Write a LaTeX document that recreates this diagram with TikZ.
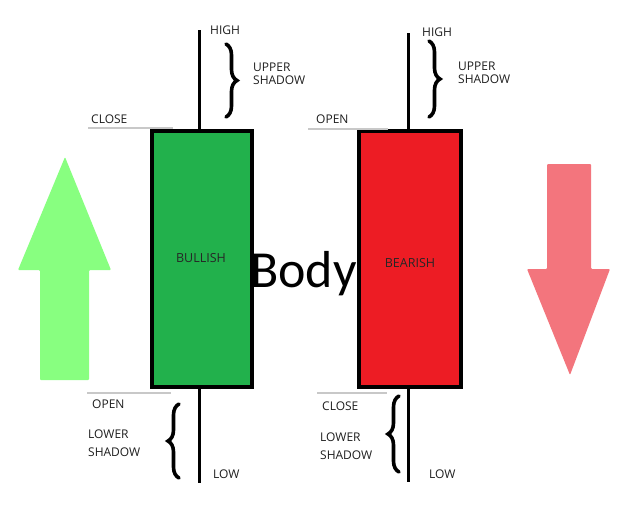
\documentclass[tikz,border=0pt]{standalone}
\usepackage{fontspec}
\setmainfont{Open Sans}
\newfontfamily\bodyfont{Carlito}
\usetikzlibrary{decorations.pathreplacing}
\definecolor{candlegreen}{RGB}{34,177,76}
\definecolor{candlered}{RGB}{237,28,36}
\definecolor{upgreen}{RGB}{136,255,128}
\definecolor{downred}{RGB}{243,117,125}
\definecolor{lbl}{RGB}{30,30,30}
\definecolor{levelgray}{RGB}{200,200,200}
\tikzset{
  candle/.style={draw=black, line width=4pt, minimum height=256pt, inner sep=0pt},
  wick/.style={line width=3pt, black},
  level/.style={line width=2.5pt, levelgray},
  lab/.style={font=\fontsize{12}{13.5}\selectfont, text=lbl, inner sep=0pt, anchor=west, align=left},
  boxlab/.style={font=\fontsize{12.5}{13}\selectfont, text=black!85, inner sep=0pt},
  shbrace/.style={decorate, decoration={brace, amplitude=11pt}, line width=3.6pt, line cap=round, black},
}
\begin{document}
\begin{tikzpicture}[x=1pt,y=-1pt]
\useasboundingbox (0,0) rectangle (631,523);
% big arrows
\fill[upgreen, rounded corners=1pt] (65,157) -- (111,270) -- (89,270) -- (89,380) -- (40,380) -- (40,270) -- (18,270) -- cycle;
\fill[downred, rounded corners=1pt] (547,164) -- (591,164) -- (591,269) -- (610,269) -- (570,375) -- (527,269) -- (547,269) -- cycle;
% candles
\node[candle, fill=candlegreen, minimum width=100pt] (bull) at (202,259) {};
\node[candle, fill=candlered, minimum width=102pt] (bear) at (410,259) {};
\node[boxlab] (bulltxt) at (201,258) {BULLISH};
\node[boxlab] (beartxt) at (410,263) {BEARISH};
% wicks
\coordinate (gh) at (199,30);
\coordinate (gl) at (199,483);
\coordinate (rh) at (408,33);
\coordinate (rl) at (408,482);
\draw[wick] (gh) -- (gh |- bull.north);
\draw[wick] (bull.south -| gl) -- (gl);
\draw[wick] (rh) -- (rh |- bear.north);
\draw[wick] (bear.south -| rl) -- (rl);
% level lines
\coordinate (gc1) at (88,128); \coordinate (gc2) at (173,128);
\coordinate (go1) at (87,393); \coordinate (go2) at (171,393);
\coordinate (ro1) at (308,129); \coordinate (ro2) at (388,129);
\coordinate (rc1) at (317,393); \coordinate (rc2) at (387,393);
\draw[level] (gc1) -- (gc2);
\draw[level] (go1) -- (go2);
\draw[level] (ro1) -- (ro2);
\draw[level] (rc1) -- (rc2);
% braces
\coordinate (gub1) at (226,44); \coordinate (gub2) at (226,117);
\coordinate (rub1) at (429,41); \coordinate (rub2) at (429,117);
\coordinate (glb1) at (179,478); \coordinate (glb2) at (179,404);
\coordinate (rlb1) at (399,472); \coordinate (rlb2) at (399,396);
\draw[shbrace] (gub1) -- (gub2);
\draw[shbrace] (rub1) -- (rub2);
\draw[shbrace] (glb1) -- (glb2);
\draw[shbrace] (rlb1) -- (rlb2);
% labels
\node[lab] (ghigh) at (210,30) {HIGH};
\node[lab] (gupper) at (253,74) {UPPER\\SHADOW};
\node[lab] (gclose) at (91,119) {CLOSE};
\node[lab] (gopen) at (92,404) {OPEN};
\node[lab] (glower) at (88,443) {LOWER\\[5pt]SHADOW};
\node[lab] (glow) at (213,474) {LOW};
\node[lab] (rhigh) at (422,32) {HIGH};
\node[lab] (rupper) at (458,73) {UPPER\\[-1pt]SHADOW};
\node[lab] (ropen) at (316,119) {OPEN};
\node[lab] (rclose) at (322,406) {CLOSE};
\node[lab] (rlower) at (320,446) {LOWER\\[5pt]SHADOW};
\node[lab] (rlow) at (429,474) {LOW};
\node[font=\bodyfont\fontsize{52}{52}\selectfont, inner sep=0pt, anchor=base west] (body) at (250,287) {Body};
\end{tikzpicture}
\end{document}
